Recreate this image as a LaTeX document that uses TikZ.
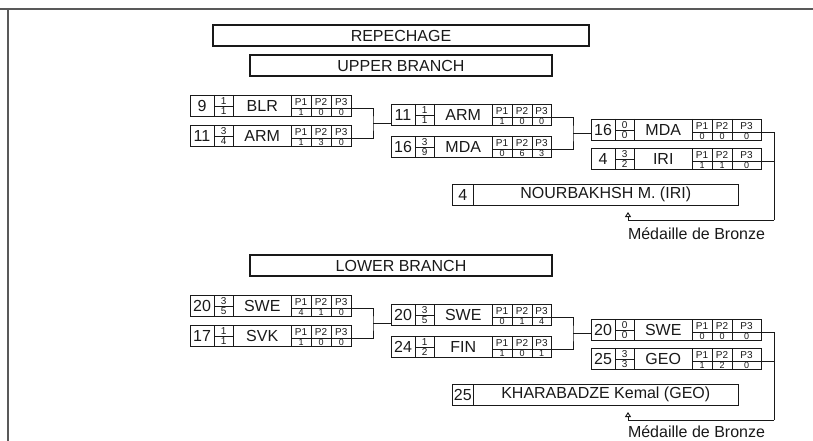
\documentclass[tikz,border=0pt]{standalone}
\usepackage{fontspec}
\setmainfont{Liberation Sans}
\usetikzlibrary{calc,arrows.meta}
\definecolor{linec}{gray}{0.1}
\definecolor{textc}{gray}{0.1}
\definecolor{framec}{gray}{0.35}
\tikzset{
  every node/.style={inner sep=0pt, outer sep=0pt, text=textc},
  rowbox/.style={draw=linec, line width=0.9pt, anchor=north west, minimum height=21pt},
  big/.style={font=\fontsize{16}{17}\selectfont},
  small/.style={font=\fontsize{10}{11}\selectfont},
  tiny/.style={font=\fontsize{9}{10}\selectfont},
  titlebox/.style={draw=linec, line width=1.9pt, minimum height=21.5pt, big},
  ln/.style={draw=linec, line width=0.9pt},
  medal/.style={ln, -{Triangle[open,width=6pt,length=5pt]}},
}
% #1 name, #2 x, #3 y top, #4 width, #5 seed, #6 frac top, #7 frac bottom, #8 country, #9 p list
\newcommand\mrow[9]{%
\begin{scope}[shift={(#2,#3)}]
  \node[rowbox, minimum width=#4pt] (#1) at (0,0) {};
  \draw[ln] (24,0) -- (24,21) (43.5,0) -- (43.5,21) (101,0) -- (101,21)
            (121,0) -- (121,21) (141,0) -- (141,21);
  \draw[ln] (24,11.5) -- (43.5,11.5) (101,13.5) -- (#4,13.5);
  \node[big] at (12,10.5) {#5};
  \node[small] at (33.75,5.9) {#6};
  \node[small] at (33.75,16.4) {#7};
  \node[big] at (72.25,10.5) {#8};
  \node[small] at (111,7) {P1};
  \node[small] at (131,7) {P2};
  \node[small] at ({(141+#4)/2},7) {P3};
  \foreach \v [count=\i] in {#9} {
    \pgfmathsetmacro\xx{\i==3 ? (141+#4)/2 : 91+20*\i}
    \node[tiny] at (\xx,17.4) {\v};
  }
\end{scope}}
% #1 name, #2 y top, #3 seed, #4 text
\newcommand\finalbox[4]{%
  \node[rowbox, minimum width=286pt] (#1) at (452,#2) {};
  \draw[ln] ($(#1.north west)+(21.5,0)$) -- ($(#1.south west)+(21.5,0)$);
  \node[big] at ($(#1.west)+(10.75,0)$) {#3};
  \node[big] at ($(#1.center)+(10.75,0)$) {#4};
}
% bracket: #1 upper row, #2 lower row, #3 offset, #4 next row, #5 coordinate name
\newcommand\bracket[5]{%
  \path ($(#1.north east)+(0,13.5)$) coordinate (#5a);
  \path ($(#2.north east)+(0,13.5)$) coordinate (#5b);
  \path ($(#5a)!0.5!(#5b)+(#3,0)$) coordinate (#5m);
  \draw[ln] (#5a) -| (#5m) |- (#5b);
  \draw[ln] (#5m) -- (#4.west |- #5m);
}
\begin{document}
\begin{tikzpicture}[x=1pt,y=-1pt]
\useasboundingbox (0,0) rectangle (813,441);
% frame
\draw[framec, line width=1.8pt] (0,9) -- (813,9);
\draw[framec, line width=1.8pt] (8,9) -- (8,441);
% titles
\node[titlebox, minimum width=376pt] (rep) at (401,35.5) {REPECHAGE};
\node[titlebox, minimum width=302pt] (upper) at (401,65.5) {UPPER BRANCH};
\node[titlebox, minimum width=302pt] (lower) at (401,265.5) {LOWER BRANCH};
% upper branch
\mrow{u1a}{190}{95}{161.5}{9}{1}{1}{BLR}{1,0,0}
\mrow{u1b}{190}{125}{161.5}{11}{3}{4}{ARM}{1,3,0}
\mrow{u2a}{391}{104}{160}{11}{1}{1}{ARM}{1,0,0}
\mrow{u2b}{391}{136}{160}{16}{3}{9}{MDA}{0,6,3}
\mrow{u3a}{591}{119}{170}{16}{0}{0}{MDA}{0,0,0}
\mrow{u3b}{591}{148}{170}{4}{3}{2}{IRI}{1,1,0}
\finalbox{ufin}{184}{4}{NOURBAKHSH M. (IRI)}
\bracket{u1a}{u1b}{21.5}{u2a}{ub1}
\bracket{u2a}{u2b}{22}{u3a}{ub2}
\coordinate (ucorner) at (774,220);
\coordinate (utip) at (628,212);
\path ($(u3a.north east)+(0,13.5)$) coordinate (u3ap);
\path ($(u3b.north east)+(0,13.5)$) coordinate (u3bp);
\draw[ln] (u3ap) -| (ucorner);
\draw[ln] (u3bp) -- (u3bp -| ucorner);
\draw[medal] (ucorner) -| (utip);
\node[big, anchor=base west] (umedal) at (628,239) {Médaille de Bronze};
% lower branch
\mrow{l1a}{190}{295}{161.5}{20}{3}{5}{SWE}{4,1,0}
\mrow{l1b}{190}{325}{161.5}{17}{1}{1}{SVK}{1,0,0}
\mrow{l2a}{391}{304}{160}{20}{3}{5}{SWE}{0,1,4}
\mrow{l2b}{391}{336}{160}{24}{1}{2}{FIN}{1,0,1}
\mrow{l3a}{591}{319}{170}{20}{0}{0}{SWE}{0,0,0}
\mrow{l3b}{591}{348}{170}{25}{3}{3}{GEO}{1,2,0}
\finalbox{lfin}{384}{25}{KHARABADZE Kemal (GEO)}
\bracket{l1a}{l1b}{21.5}{l2a}{lb1}
\bracket{l2a}{l2b}{22}{l3a}{lb2}
\coordinate (lcorner) at (774,420);
\coordinate (ltip) at (628,412);
\path ($(l3a.north east)+(0,13.5)$) coordinate (l3ap);
\path ($(l3b.north east)+(0,13.5)$) coordinate (l3bp);
\draw[ln] (l3ap) -| (lcorner);
\draw[ln] (l3bp) -- (l3bp -| lcorner);
\draw[medal] (lcorner) -| (ltip);
\node[big, anchor=base west] (lmedal) at (628,437.5) {Médaille de Bronze};
\end{tikzpicture}
\end{document}
